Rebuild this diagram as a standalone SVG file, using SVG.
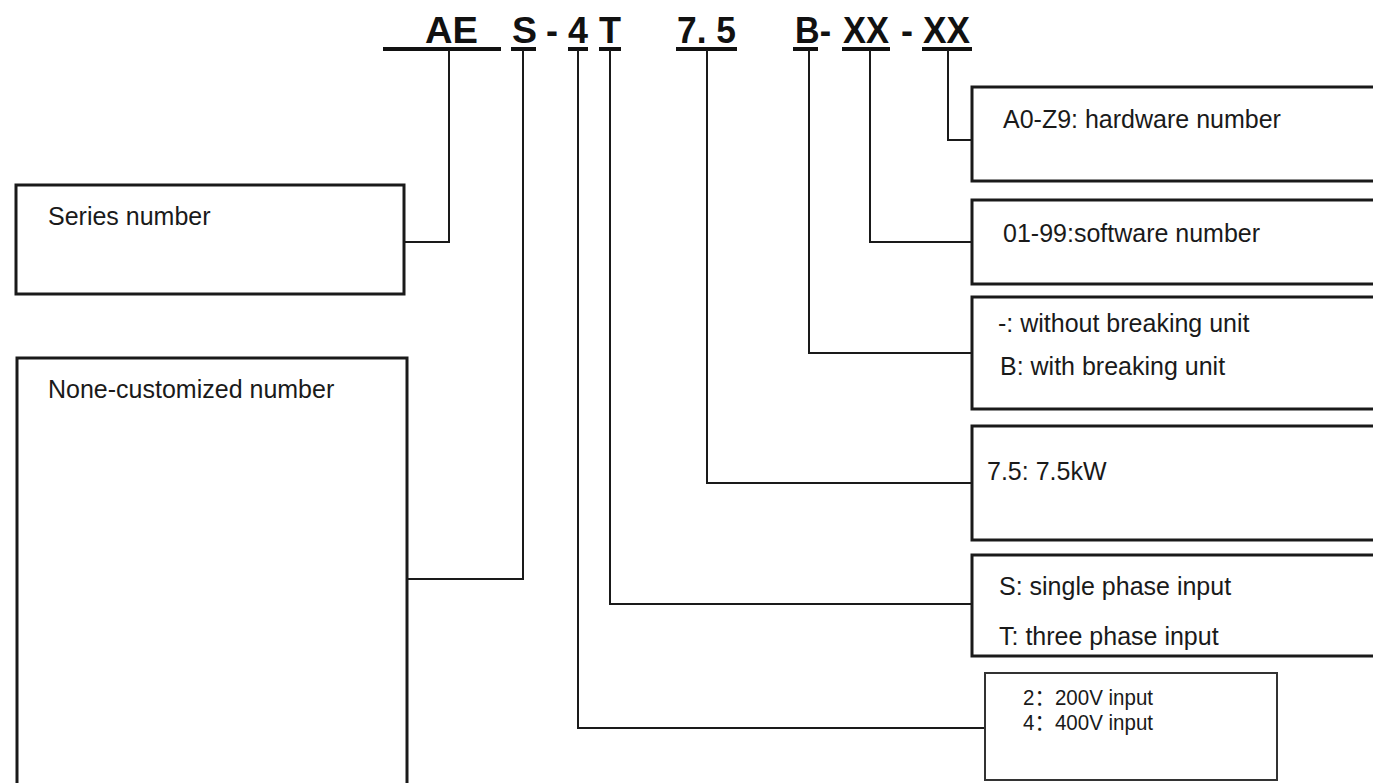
<svg xmlns="http://www.w3.org/2000/svg" width="1373" height="783" viewBox="0 0 1373 783">
<style>
.bg{fill:#fff}
.box{fill:#fff;stroke:#1a1a1a;stroke-width:3}
.box2{fill:#fff;stroke:#333;stroke-width:2}
.con{fill:none;stroke:#1a1a1a;stroke-width:2}
.ul{stroke:#111;stroke-width:4}
.code{font-family:"Liberation Sans",Arial,sans-serif;font-weight:bold;font-size:36px;fill:#111}
.lbl{font-family:"Liberation Sans",Arial,sans-serif;font-size:25px;fill:#1a1a1a}
.sm{font-family:"Liberation Sans","Noto Sans CJK SC",sans-serif;font-size:22px;fill:#1a1a1a}
</style>
<rect class="bg" x="0" y="0" width="1373" height="783"/>
<g id="code">
<text class="code" x="425" y="43" textLength="53" lengthAdjust="spacingAndGlyphs">AE</text>
<text class="code" x="512" y="43" textLength="25" lengthAdjust="spacingAndGlyphs">S</text>
<text class="code" x="546" y="43">-</text>
<text class="code" x="568" y="43" textLength="20" lengthAdjust="spacingAndGlyphs">4</text>
<text class="code" x="599" y="43" textLength="22" lengthAdjust="spacingAndGlyphs">T</text>
<text class="code" x="677" y="43" textLength="59" lengthAdjust="spacingAndGlyphs">7. 5</text>
<text class="code" x="795" y="43" textLength="36" lengthAdjust="spacingAndGlyphs">B-</text>
<text class="code" x="843" y="43" textLength="46" lengthAdjust="spacingAndGlyphs">XX</text>
<text class="code" x="901" y="43">-</text>
<text class="code" x="923" y="43" textLength="47" lengthAdjust="spacingAndGlyphs">XX</text>
<line class="ul" x1="383" y1="49" x2="501" y2="49"/>
<line class="ul" x1="511" y1="49" x2="536" y2="49"/>
<line class="ul" x1="568" y1="49" x2="588" y2="49"/>
<line class="ul" x1="599" y1="49" x2="621" y2="49"/>
<line class="ul" x1="676" y1="49" x2="737" y2="49"/>
<line class="ul" x1="793" y1="49" x2="818" y2="49"/>
<line class="ul" x1="842" y1="49" x2="890" y2="49"/>
<line class="ul" x1="922" y1="49" x2="972" y2="49"/>
</g>
<g id="connectors">
<path class="con" d="M449,50 V242 H404"/>
<path class="con" d="M523,50 V579 H407"/>
<path class="con" d="M578,50 V728 H985"/>
<path class="con" d="M610,50 V604 H972"/>
<path class="con" d="M707,50 V483 H972"/>
<path class="con" d="M809,50 V353 H972"/>
<path class="con" d="M870,50 V242 H972"/>
<path class="con" d="M948,50 V140 H972"/>
</g>
<g id="series">
<rect class="box" x="16" y="185" width="388" height="109"/>
<text class="lbl" x="48" y="225">Series number</text>
</g>
<g id="none-customized">
<rect class="box" x="17" y="358" width="390" height="440"/>
<text class="lbl" x="48" y="398">None-customized number</text>
</g>
<g id="hardware">
<rect class="box" x="972" y="87" width="420" height="94"/>
<text class="lbl" x="1003" y="128">A0-Z9: hardware number</text>
</g>
<g id="software">
<rect class="box" x="972" y="200" width="420" height="84"/>
<text class="lbl" x="1003" y="242">01-99:software number</text>
</g>
<g id="braking">
<rect class="box" x="972" y="297" width="420" height="112"/>
<text class="lbl" x="998" y="332">-: without breaking unit</text>
<text class="lbl" x="1000" y="375">B: with breaking unit</text>
</g>
<g id="power">
<rect class="box" x="972" y="426" width="420" height="114"/>
<text class="lbl" x="987" y="480">7.5: 7.5kW</text>
</g>
<g id="phase">
<rect class="box" x="972" y="555" width="420" height="101"/>
<text class="lbl" x="999" y="595">S: single phase input</text>
<text class="lbl" x="999" y="645">T: three phase input</text>
</g>
<g id="voltage">
<rect class="box2" x="985" y="673" width="292" height="107"/>
<text class="sm" x="1023" y="705" textLength="130" lengthAdjust="spacingAndGlyphs">2：200V input</text>
<text class="sm" x="1023" y="730" textLength="130" lengthAdjust="spacingAndGlyphs">4：400V input</text>
</g>
</svg>
